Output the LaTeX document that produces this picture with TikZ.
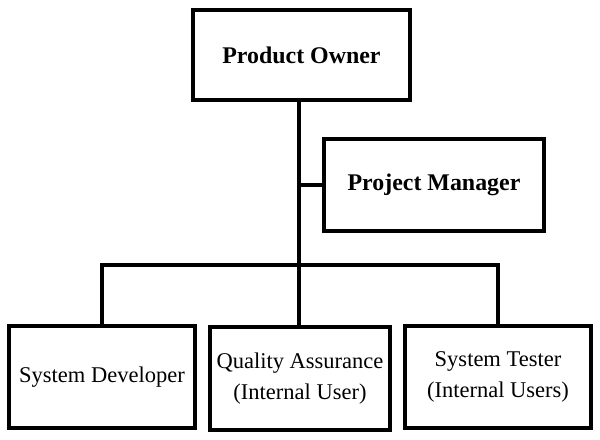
\documentclass[tikz,border=0pt]{standalone}
\usepackage{fontspec}
\setmainfont{Liberation Serif}
\usetikzlibrary{calc}

\def\px{0.025cm}
\tikzset{
  role/.style={draw, line width=4*\px, align=center, inner sep=2pt},
  lead/.style={role, font=\fontsize{17}{20}\selectfont\bfseries},
  staff/.style={role, font=\fontsize{16}{21.5}\selectfont},
  link/.style={line width=4*\px},
}

\begin{document}
\begin{tikzpicture}[x=\px, y=-\px]
        % Fix the frame
        \useasboundingbox (0,0) rectangle (600,440);
        % Coordinates
        \coordinate (hub) at (299,265);
        % Draw the boxes
        \node[lead, minimum width=217*\px, minimum height=90*\px] (po) at (301.5,55) {Product Owner};
        \node[lead, minimum width=220*\px, minimum height=92*\px] (pm) at (434,185) {Project Manager};
        \node[staff, minimum width=186*\px, minimum height=102*\px] (sd) at (102,377) {System Developer};
        \node[staff, minimum width=180*\px, minimum height=103*\px] (qa) at (300,378.5) {Quality Assurance\\(Internal User)};
        \node[staff, minimum width=186*\px, minimum height=102*\px] (st) at (498,377) {System Tester\\(Internal Users)};
        % Draw the lines
        \draw[link] (po.south -| hub) -- (qa.north -| hub);
        \draw[link] (pm.west) -- (pm.west -| hub);
        \draw[link] (sd.north) |- (hub) -| (st.north);
\end{tikzpicture}
\end{document}
